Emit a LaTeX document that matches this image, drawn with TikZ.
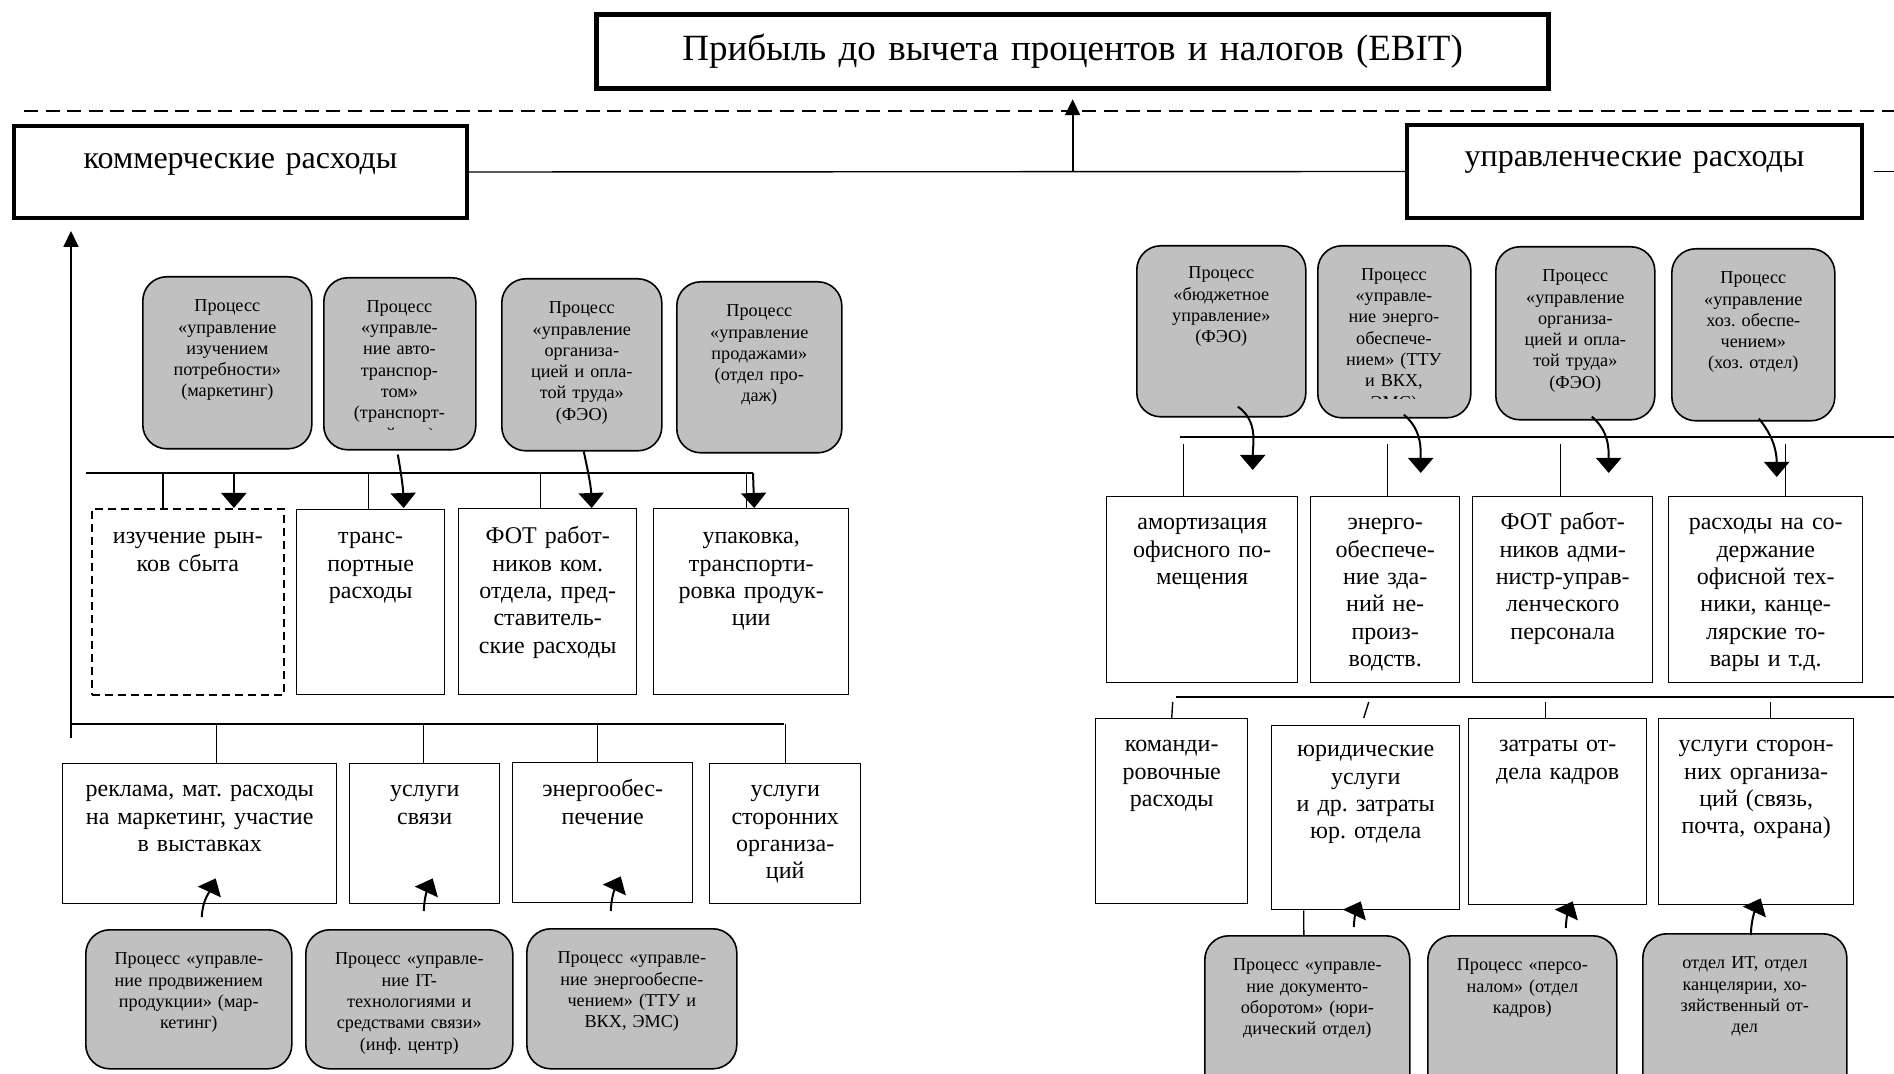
\documentclass[tikz,border=0pt]{standalone}
\usepackage{fontspec}
\setmainfont{Liberation Serif}
\usetikzlibrary{arrows.meta,calc}
\definecolor{procgray}{RGB}{192,192,192}
\frenchspacing

% \tbox{style}{name}{x1}{y1}{x2}{y2}{first baseline below top}{text}
% draws a box with its text set from the top down
\newcommand\tbox[8]{%
  \pgfmathsetmacro\bxw{(#5-#3)*0.5}%
  \pgfmathsetmacro\bxh{(#6-#4)*0.5}%
  \pgfmathsetmacro\bxt{#7*0.5}%
  \pgfmathsetmacro\bxd{\bxh-\bxt}%
  \pgfmathsetmacro\bxtw{\bxw-2}%
  \node[#1, anchor=north west, inner sep=0pt, minimum width=\bxw pt,
        minimum height=\bxh pt, text width=\bxtw pt, text height=\bxt pt,
        text depth=\bxd pt] (#2) at (#3,#4) {#8};%
}

\begin{document}
\begin{tikzpicture}[x=0.5pt,y=-0.5pt,
  topbox/.style={draw, line width=2.6pt, font=\fontsize{18.5}{22}\selectfont, align=center},
  catbox/.style={draw, line width=2pt, font=\fontsize{16}{19}\selectfont, align=center},
  cell/.style={draw, line width=0.7pt, font=\fontsize{12}{13.7}\selectfont, align=center},
  dcell/.style={cell, line width=0.9pt, dash pattern=on 4pt off 2.5pt},
  proc/.style={draw, line width=0.8pt, fill=procgray, rounded corners=12pt,
               font=\fontsize{9.1}{10.65}\selectfont, align=center},
  proctext/.style={font=\fontsize{9.1}{10.65}\selectfont, align=center},
  link/.style={line width=0.7pt},
  sep/.style={line width=0.7pt, dash pattern=on 7pt off 3.8pt},
  feed/.style={line width=1pt, -{Triangle[width=12.5pt,length=7.5pt]}},
  rise/.style={line width=0.9pt, -{Triangle[width=7.5pt,length=8pt]}},
]
\useasboundingbox (0,0) rectangle (1894,1074);

% ---------- top level ----------
\tbox{topbox}{ebit}{594}{12}{1546}{86}{46}{Прибыль до вычета процентов и налогов (EBIT)}
\tbox{catbox}{kom}{12}{124}{465}{216}{43}{коммерческие расходы}
\tbox{catbox}{upr}{1405}{123}{1860}{216}{42}{управленческие расходы}

% ---------- commercial side: processes above ----------
\tbox{proc}{pm1}{142}{276}{311}{448}{35}{Процесс\\«управление\\изучением\\потребности»\\(маркетинг)}
\tbox{proc}{pm2}{323}{277}{475}{449}{35}{}
\begin{scope}
  \clip (323,277) rectangle (475,430);
  \tbox{proctext}{pm2-t}{323}{277}{475}{449}{35}{Процесс\\«управле-\\ние авто-\\транспор-\\том»\\(транспорт-\\ный цех)}
\end{scope}
\tbox{proc}{pm3}{501}{278}{661}{450}{35}{Процесс\\«управление\\организа-\\цией и опла-\\той труда»\\(ФЭО)}
\tbox{proc}{pm4}{676}{281}{841}{452}{35}{Процесс\\«управление\\продажами»\\(отдел про-\\даж)}

% ---------- commercial side: cost items ----------
\tbox{dcell}{izuch}{91}{508}{283}{694}{35}{изучение рын-\\ков сбыта}
\tbox{cell}{trans}{296}{509}{444}{694}{34}{транс-\\портные\\расходы}
\tbox{cell}{fotk}{458}{508}{636}{694}{35}{ФОТ работ-\\ников ком.\\отдела, пред-\\ставитель-\\ские расходы}
\tbox{cell}{upak}{653}{508}{848}{694}{35}{упаковка,\\транспорти-\\ровка продук-\\ции}

\tbox{cell}{rek}{62}{763}{336}{903}{33}{реклама, мат. расходы\\на маркетинг, участие\\в выставках}
\tbox{cell}{svy}{349}{763}{499}{903}{33}{услуги\\связи}
\tbox{cell}{enr}{512}{762}{692}{902}{34}{энергообес-\\печение}
\tbox{cell}{sto}{709}{763}{860}{903}{33}{услуги\\сторонних\\организа-\\ций}

% ---------- commercial side: processes below ----------
\tbox{proc}{pl1}{85}{929}{291}{1068}{35}{Процесс «управле-\\ние продвижением\\продукции» (мар-\\кетинг)}
\tbox{proc}{pl2}{305}{929}{512}{1068}{35}{Процесс «управле-\\ние IT-\\технологиями и\\средствами связи»\\(инф. центр)}
\tbox{proc}{pl3}{526}{928}{736}{1068}{35}{Процесс «управле-\\ние энергообеспе-\\чением» (ТТУ и\\ВКХ, ЭМС)}

% ---------- administrative side: processes above ----------
\tbox{proc}{pr1}{1136}{245}{1305}{416}{33}{Процесс\\«бюджетное\\управление»\\(ФЭО)}
\tbox{proc}{pr2}{1317}{245}{1470}{417}{35}{}
\begin{scope}
  \clip (1317,245) rectangle (1470,399);
  \tbox{proctext}{pr2-t}{1317}{245}{1470}{417}{35}{Процесс\\«управле-\\ние энерго-\\обеспече-\\нием» (ТТУ\\и ВКХ,\\ЭМС)}
\end{scope}
\tbox{proc}{pr3}{1495}{246}{1654}{419}{35}{Процесс\\«управление\\организа-\\цией и опла-\\той труда»\\(ФЭО)}
\tbox{proc}{pr4}{1671}{248}{1834}{420}{35}{Процесс\\«управление\\хоз. обеспе-\\чением»\\(хоз. отдел)}

% ---------- administrative side: cost items ----------
\tbox{cell}{amo}{1106}{496}{1297}{682}{33}{амортизация\\офисного по-\\мещения}
\tbox{cell}{ene}{1310}{496}{1459}{682}{33}{энерго-\\обеспече-\\ние зда-\\ний не-\\произ-\\водств.}
\tbox{cell}{fota}{1472}{496}{1652}{682}{33}{ФОТ работ-\\ников адми-\\нистр-управ-\\ленческого\\персонала}
\tbox{cell}{ras}{1668}{496}{1862}{682}{33}{расходы на со-\\держание\\офисной тех-\\ники, канце-\\лярские то-\\вары и т.д.}

\tbox{cell}{kmd}{1095}{718}{1247}{903}{33}{команди-\\ровочные\\расходы}
\tbox{cell}{yur}{1271}{725}{1459}{909}{31}{юридические\\услуги\\и др. затраты\\юр. отдела}
\tbox{cell}{zat}{1468}{718}{1646}{904}{33}{затраты от-\\дела кадров}
\tbox{cell}{usl}{1658}{718}{1853}{904}{33}{услуги сторон-\\них организа-\\ций (связь,\\почта, охрана)}

% ---------- administrative side: processes below ----------
\tbox{proc}{prb1}{1204}{935}{1409}{1110}{35}{Процесс «управле-\\ние документо-\\оборотом» (юри-\\дический отдел)}
\tbox{proc}{prb2}{1427}{935}{1616}{1110}{35}{Процесс «персо-\\налом» (отдел\\кадров)}
\tbox{proc}{prb3}{1642}{933}{1846}{1110}{35}{отдел ИТ, отдел\\канцелярии, хо-\\зяйственный от-\\дел}

% ---------- top connectors ----------
\coordinate (sepW) at (24,111);
\coordinate (sepE) at (1894,111);
\draw[sep] (sepW) -- (sepE);
\draw[link] (kom.east) -- (upr.west);
\draw[rise] (ebit.south |- kom.east) -- ([yshift=-4pt]ebit.south);
\coordinate (stubE) at (1894,172);
\draw[link] ([xshift=5pt]upr.east) -- (upr.east -| stubE);

% ---------- commercial trunk and bars ----------
\coordinate (trunkL) at (71,738);
\draw[rise] (trunkL) -- ($(kom.south west)+(59,11)$);
\coordinate (barLw) at (71,724);
\coordinate (barLe) at (784,724);
\draw[link] (barLw) -- (barLe);
\draw[link] ($(rek.north)+(17,0)$) coordinate (d1) -- (d1 |- barLw);
\draw[link] ($(svy.north)+(-1,0)$) coordinate (d2) -- (d2 |- barLw);
\draw[link] ($(enr.north)+(-5,0)$) coordinate (d3) -- (d3 |- barLw);
\draw[link] (sto.north) coordinate (d4) -- (d4 |- barLw);

\coordinate (barMw) at (86,473);
\coordinate (barMe) at (753,473);
\draw[link] (barMw) -- (barMe);
\draw[link] ($(izuch.north)+(-25,0)$) coordinate (m1) -- (m1 |- barMw);
\draw[link] ($(trans.north)+(-2,0)$) coordinate (m2) -- (m2 |- barMw);
\draw[link] ($(fotk.north)+(-7,0)$) coordinate (m3) -- (m3 |- barMw);
\draw[link] ($(upak.north)+(-4.5,0)$) coordinate (m4) -- (m4 |- barMw);
\path ($(izuch.north)+(46,0)$) coordinate (t1);
\draw[feed] (t1 |- barMw) -- (t1);
\draw[feed] (barMe) -- ($(upak.north)+(3,0)$);
\draw[feed] ($(pm2.south)+(-2,4)$) to[out=-80,in=92] ($(trans.north)+(33,-1)$);
\draw[feed] ($(pm3.south)+(2,0)$) to[out=-78,in=92] ($(fotk.north)+(44,0)$);

% ---------- commercial arrows from lower processes ----------
\draw[feed] ($(pl1.north)+(13,-12)$) to[out=88,in=-115] ($(rek.south)+(16,-26)$);
\draw[feed] ($(pl2.north)+(14.5,-18)$) to[out=88,in=-115] ($(svy.south)+(8,-26)$);
\draw[feed] ($(pl3.north)+(-21,-17)$) to[out=88,in=-115] ($(enr.south)+(18,-27)$);

% ---------- administrative bars ----------
\coordinate (barRw) at (1180,437);
\coordinate (barRe) at (1894,437);
\draw[link] (barRw) -- (barRe);
\draw[link] ($(amo.north)+(-18.5,0)$) -- ++(0,-52);
\draw[link] ($(ene.north)+(2.5,0)$) -- ++(0,-52);
\draw[link] ($(fota.north)+(-2,0)$) -- ++(0,-52);
\draw[link] ($(ras.north)+(20,0)$) -- ++(0,-52);
\draw[feed] ($(pr1.south)+(16.5,-11)$) to[out=-35,in=90] ($(amo.north)+(50.5,-26)$);
\draw[feed] ($(pr2.south)+(9.5,-4)$) to[out=-40,in=90] ($(ene.north)+(35.5,-23)$);
\draw[feed] ($(pr3.south)+(16.5,-4)$) to[out=-40,in=90] ($(fota.north)+(46,-23)$);
\draw[feed] ($(pr4.south)+(5.5,-3)$) to[out=-50,in=90] ($(ras.north)+(11,-19)$);

\coordinate (barBw) at (1176,697);
\coordinate (barBe) at (1894,697);
\draw[link] (barBw) -- (barBe);
\draw[link] (kmd.north) -- ++(1,-16);
\draw[link] ($(yur.north)+(-2,-7)$) -- ++(5,-16);
\draw[link] ($(zat.north)+(-12,0)$) -- ++(0,-16);
\draw[link] ($(usl.north)+(14.5,0)$) -- ++(0,-16);
\draw[link] ($(yur.south)+(-62,0)$) -- ($(prb1.north)+(-3.5,0)$);

% ---------- administrative arrows from lower processes ----------
\draw[feed] ($(prb1.north)+(46.5,-8)$) to[out=88,in=-115] ($(yur.south)+(-5,-9)$);
\draw[feed] ($(prb2.north)+(43.5,-7)$) to[out=88,in=-115] ($(zat.south)+(15,-4)$);
\draw[feed] ($(prb3.north)+(6,2)$) to[out=88,in=-115] ($(usl.south)+(4.5,-7)$);
\end{tikzpicture}
\end{document}
